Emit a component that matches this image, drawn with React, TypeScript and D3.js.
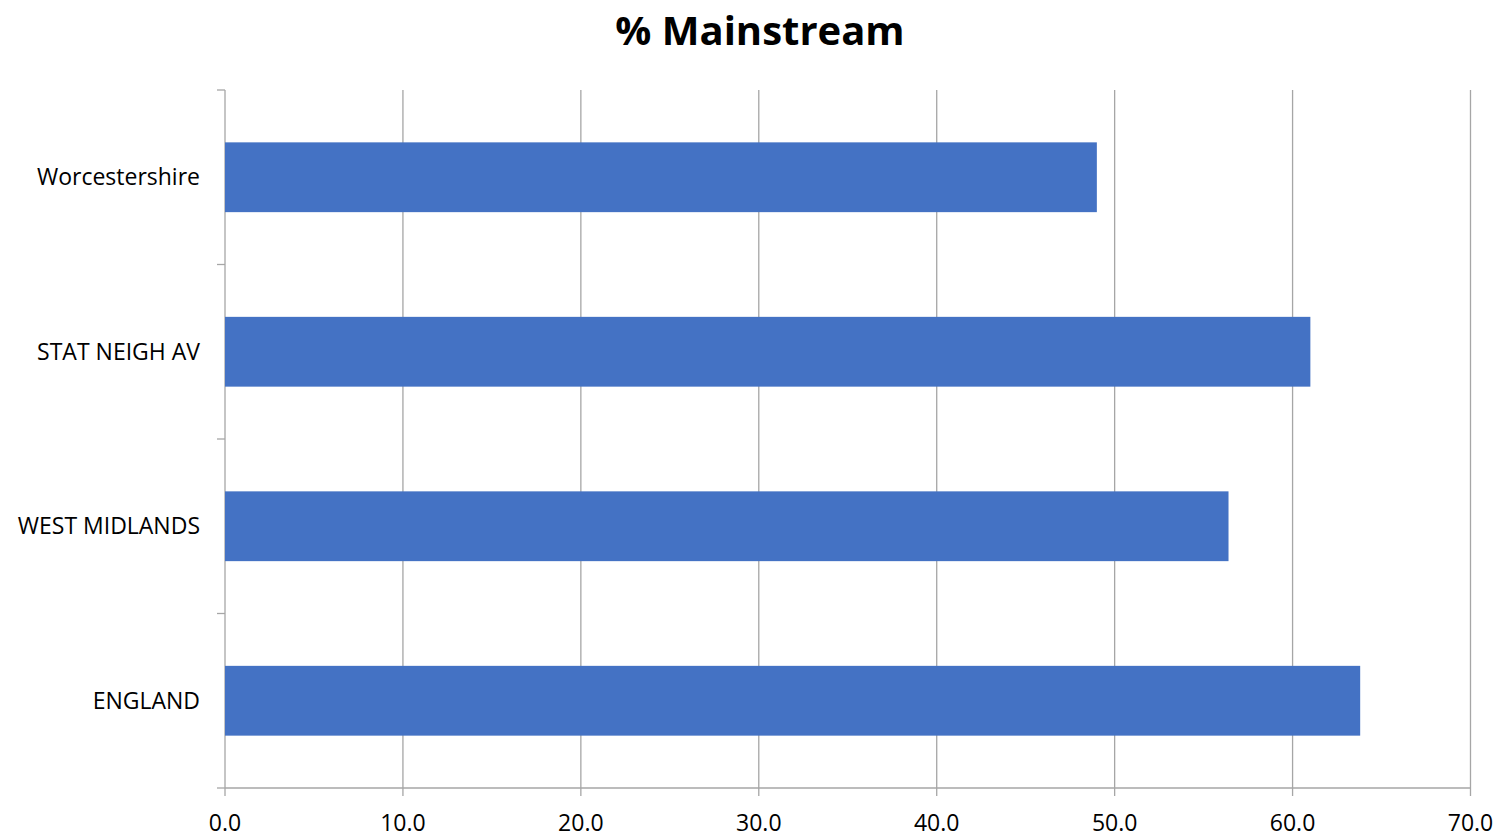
import React from "react";
import * as d3 from "d3";

const categories = ["Worcestershire", "STAT NEIGH AV", "WEST MIDLANDS", "ENGLAND"];
const values = [49.0, 61.0, 56.4, 63.8];
const xTicks = [0, 10, 20, 30, 40, 50, 60, 70];
const title = "% Mainstream";

const W = 1499;
const H = 837;
const margin = { left: 225, right: 28.5, top: 90, bottom: 49 };

export default function App() {
  const x = d3.scaleLinear().domain([0, 70]).range([margin.left, W - margin.right]);
  const y = d3
    .scaleBand<string>()
    .domain(categories)
    .range([margin.top, H - margin.bottom])
    .paddingInner(0.6)
    .paddingOuter(0.3);
  const yEdges = d3.range(categories.length + 1).map(
    (i) => margin.top + (i * (H - margin.bottom - margin.top)) / categories.length
  );
  const font = "Open Sans, Liberation Sans, sans-serif";
  const gridColor = "#a6a6a6";
  const bottom = H - margin.bottom;

  return (
    <svg
      width={W}
      height={H}
      style={{ position: "absolute", left: 0, top: 0, background: "#fff" }}
    >
      <text
        x={760}
        y={45}
        textAnchor="middle"
        fontFamily={font}
        fontWeight="bold"
        fontSize={40}
        fill="#000"
      >
        {title}
      </text>
      {xTicks.map((t) => (
        <g key={t}>
          <line
            x1={x(t)}
            x2={x(t)}
            y1={margin.top}
            y2={bottom + 8}
            stroke={gridColor}
            strokeWidth={1.3}
          />
          <text
            x={x(t)}
            y={831}
            textAnchor="middle"
            fontFamily={font}
            fontSize={23}
            fill="#000"
          >
            {t.toFixed(1)}
          </text>
        </g>
      ))}
      <line x1={x(0)} x2={x(70)} y1={bottom} y2={bottom} stroke={gridColor} strokeWidth={1.3} />
      {yEdges.map((e, i) => (
        <line key={i} x1={x(0) - 8} x2={x(0)} y1={e} y2={e} stroke={gridColor} strokeWidth={1.3} />
      ))}
      {categories.map((c, i) => (
        <g key={c}>
          <rect
            x={x(0)}
            y={y(c)!}
            width={x(values[i]) - x(0)}
            height={y.bandwidth()}
            fill="#4472C4"
          />
          <text
            x={200}
            y={y(c)! + y.bandwidth() / 2}
            dy="0.35em"
            textAnchor="end"
            fontFamily={font}
            fontSize={23}
            fill="#000"
          >
            {c}
          </text>
        </g>
      ))}
    </svg>
  );
}
